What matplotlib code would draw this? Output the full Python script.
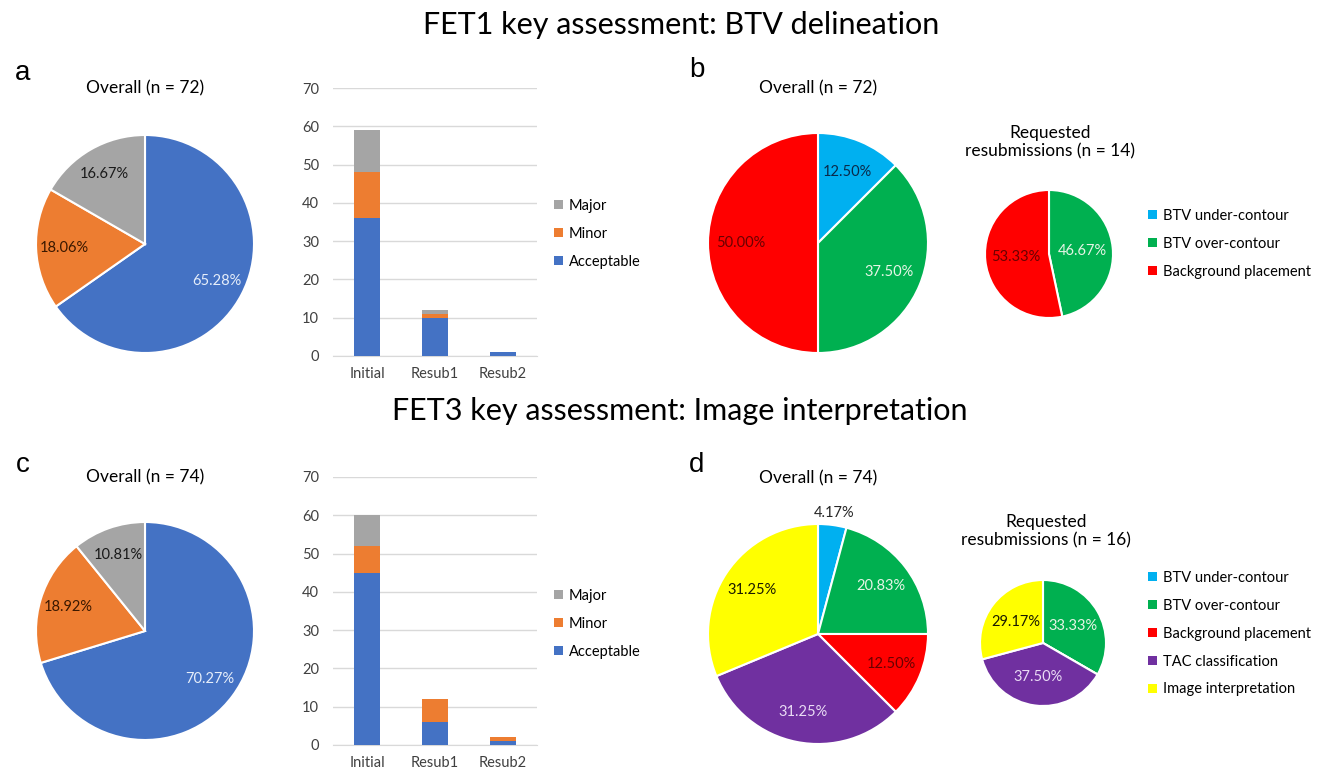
import matplotlib
matplotlib.use('Agg')
import matplotlib.pyplot as plt
from matplotlib.patches import Patch

plt.rcParams['font.family'] = ['Lato', 'DejaVu Sans']

W, H = 1326, 773

# ---- data ----
grade_labels = ['Acceptable', 'Minor', 'Major']
grade_colors = ['#4472C4', '#ED7D31', '#A5A5A5']
grade_text = ['#E6EEFA', '#3A1800', '#1A1A1A']

fet1_overall = [65.28, 18.06, 16.67]
fet3_overall = [70.27, 18.92, 10.81]

stages = ['Initial', 'Resub1', 'Resub2']
fet1_acceptable = [36, 10, 1]
fet1_minor = [12, 1, 0]
fet1_major = [11, 1, 0]
fet3_acceptable = [45, 6, 1]
fet3_minor = [7, 6, 1]
fet3_major = [8, 0, 0]

reason_labels = ['BTV under-contour', 'BTV over-contour', 'Background placement',
                 'TAC classification', 'Image interpretation']
reason_colors = ['#00B0F0', '#00B050', '#FF0000', '#7030A0', '#FFFF00']
reason_text = ['#0A2A4A', '#E6F5E6', '#6A0000', '#EADCF5', '#1A1A00']

fet1_reasons_overall = [12.50, 37.50, 50.00]
fet1_reasons_resub = [0, 46.67, 53.33]
fet3_reasons_overall = [4.17, 20.83, 12.50, 31.25, 31.25]
fet3_reasons_resub = [0, 33.33, 0, 37.50, 29.17]


def box(x0, y0, w, h):
    return [x0 / W, 1 - (y0 + h) / H, w / W, h / H]


def ftext(x, y, s, **kw):
    fig.text(x / W, 1 - y / H, s, ha='center', va='center', **kw)


def pie(cx, cy, r, vals, colors, tcolors, pctdist, outside=None):
    ax = fig.add_axes(box(cx - r, cy - r, 2 * r, 2 * r))
    wedges, _, autotexts = ax.pie(vals, colors=colors, startangle=90, counterclock=False,
                                  autopct='%.2f%%', pctdistance=pctdist,
                                  wedgeprops=dict(edgecolor='white', linewidth=1.5),
                                  textprops=dict(fontsize=10.5))
    # show the published percentages, hide empty slices
    for t, c, v in zip(autotexts, tcolors, vals):
        t.set_color(c)
        t.set_text('%.2f%%' % v if v > 0 else '')
    if outside is not None:
        i, d = outside
        x, y = autotexts[i].get_position()
        k = d / pctdist
        autotexts[i].set_position((x * k, y * k))
        autotexts[i].set_color('#262626')
    ax.set_xlim(-1, 1)
    ax.set_ylim(-1, 1)
    ax.axis('off')
    return ax


def bars(y0, acc, minor, major):
    ax = fig.add_axes(box(333, y0, 204, 268))
    x = range(len(stages))
    ax.bar(x, acc, width=0.39, color=grade_colors[0], zorder=3)
    ax.bar(x, minor, width=0.39, bottom=acc, color=grade_colors[1], zorder=3)
    b2 = [a + m for a, m in zip(acc, minor)]
    ax.bar(x, major, width=0.39, bottom=b2, color=grade_colors[2], zorder=3)
    ax.set_xlim(-0.5, 2.5)
    ax.set_ylim(0, 70)
    ax.set_yticks(range(0, 71, 10))
    ax.set_xticks(list(x))
    ax.set_xticklabels(stages)
    ax.grid(axis='y', color='#D9D9D9', linewidth=1, zorder=0)
    for s in ax.spines.values():
        s.set_visible(False)
    ax.spines['bottom'].set_visible(True)
    ax.spines['bottom'].set_color('#D9D9D9')
    ax.tick_params(length=0, labelsize=10.5, colors='#404040')
    ax.tick_params(axis='y', pad=10)
    ax.tick_params(axis='x', pad=8)
    return ax


def legend(x, y_first, labels, colors):
    handles = [Patch(facecolor=c, edgecolor='none') for c in colors]
    fig.legend(handles, labels, loc='upper left',
               bbox_to_anchor=(x / W, 1 - (y_first - 6) / H),
               frameon=False, fontsize=10.5, handlelength=0.6, handleheight=0.6,
               handletextpad=0.4, labelspacing=0.95, borderpad=0, borderaxespad=0)


fig = plt.figure(figsize=(W / 100, H / 100), dpi=100)

# titles
ftext(681, 25, 'FET1 key assessment: BTV delineation', fontsize=22)
ftext(680, 411, 'FET3 key assessment: Image interpretation', fontsize=22)
for s, x, y in [('a', 23, 73), ('b', 697, 70), ('c', 23, 465), ('d', 697, 465)]:
    ftext(x, y, s, fontsize=20, family='Liberation Sans')

# panel a
ftext(145, 88, 'Overall (n = 72)', fontsize=12.5)
pie(145, 244, 109, fet1_overall, grade_colors, grade_text, 0.74)
bars(88, fet1_acceptable, fet1_minor, fet1_major)
legend(554, 205, grade_labels[::-1], grade_colors[::-1])

# panel c
ftext(145, 477, 'Overall (n = 74)', fontsize=12.5)
pie(145, 631, 109, fet3_overall, grade_colors, grade_text, 0.74)
bars(477, fet3_acceptable, fet3_minor, fet3_major)
legend(554, 595, grade_labels[::-1], grade_colors[::-1])

# panel b
ftext(818, 88, 'Overall (n = 72)', fontsize=12.5)
pie(818, 243, 110, fet1_reasons_overall, reason_colors[:3], reason_text[:3], 0.7)
ftext(1050, 142, 'Requested\nresubmissions (n = 14)', fontsize=12.5, linespacing=1.2)
pie(1049, 254, 64, fet1_reasons_resub, reason_colors[:3], reason_text[:3], 0.52)
legend(1148, 215, reason_labels[:3], reason_colors[:3])

# panel d
ftext(818, 478, 'Overall (n = 74)', fontsize=12.5)
pie(818, 634, 110, fet3_reasons_overall, reason_colors, reason_text, 0.72, outside=(0, 1.11))
ftext(1046, 531, 'Requested\nresubmissions (n = 16)', fontsize=12.5, linespacing=1.2)
pie(1043, 643, 63, fet3_reasons_resub, reason_colors, reason_text, 0.55)
legend(1148, 577, reason_labels, reason_colors)

fig.savefig('out.png', dpi=100)
